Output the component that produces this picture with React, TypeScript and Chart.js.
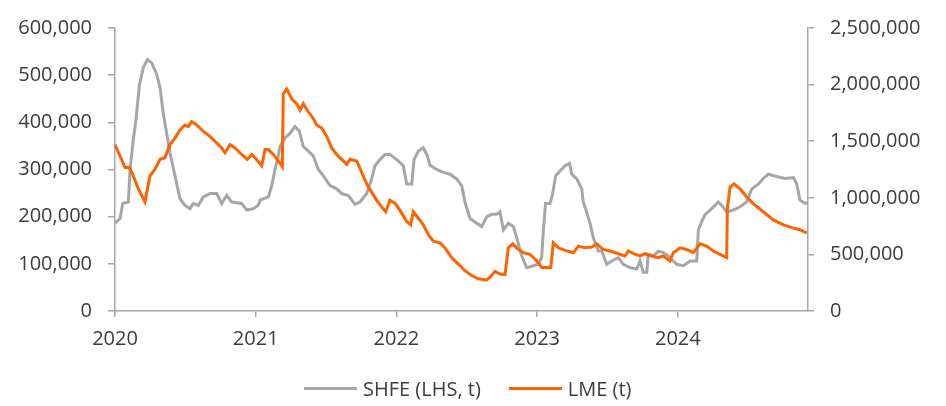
import React, { useEffect, useRef } from "react";
import { Chart, registerables } from "chart.js";

Chart.register(...registerables);

// Decimal-year positions and stock levels (tonnes)
const shfeDates = [
  2020.0, 2020.036, 2020.055, 2020.095, 2020.107, 2020.13, 2020.149, 2020.173, 2020.201, 2020.23,
  2020.261, 2020.296, 2020.32, 2020.343, 2020.367, 2020.391, 2020.426, 2020.462, 2020.497, 2020.533,
  2020.556, 2020.592, 2020.628, 2020.675, 2020.723, 2020.758, 2020.794, 2020.829, 2020.9, 2020.936,
  2020.983, 2021.018, 2021.031, 2021.09, 2021.114, 2021.137, 2021.161, 2021.173, 2021.208, 2021.244,
  2021.279, 2021.31, 2021.338, 2021.374, 2021.409, 2021.445, 2021.48, 2021.528, 2021.576, 2021.611,
  2021.658, 2021.706, 2021.741, 2021.789, 2021.824, 2021.848, 2021.883, 2021.919, 2021.954, 2022.002,
  2022.049, 2022.073, 2022.109, 2022.125, 2022.156, 2022.191, 2022.22, 2022.239, 2022.286, 2022.333,
  2022.381, 2022.428, 2022.464, 2022.487, 2022.523, 2022.571, 2022.606, 2022.642, 2022.677, 2022.713,
  2022.736, 2022.76, 2022.795, 2022.831, 2022.855, 2022.89, 2022.926, 2022.973, 2023.008, 2023.032,
  2023.044, 2023.06, 2023.091, 2023.108, 2023.132, 2023.163, 2023.199, 2023.23, 2023.246, 2023.282,
  2023.317, 2023.328, 2023.352, 2023.376, 2023.399, 2023.435, 2023.459, 2023.494, 2023.53, 2023.577,
  2023.612, 2023.66, 2023.708, 2023.731, 2023.755, 2023.779, 2023.79, 2023.826, 2023.861, 2023.897,
  2023.932, 2023.968, 2023.992, 2024.039, 2024.087, 2024.134, 2024.146, 2024.17, 2024.193, 2024.229,
  2024.264, 2024.288, 2024.312, 2024.347, 2024.394, 2024.442, 2024.489, 2024.525, 2024.572, 2024.607,
  2024.643, 2024.703, 2024.762, 2024.821, 2024.845, 2024.868, 2024.904, 2024.925,
];
const shfeValues = [
  186000, 196000, 228000, 231000, 300000, 363000, 405000, 478000, 516000, 533000,
  526000, 502000, 474000, 419000, 377000, 335000, 287000, 238000, 224000, 217000,
  228000, 224000, 242000, 249000, 249000, 228000, 245000, 231000, 228000, 214000,
  217000, 224000, 235000, 242000, 266000, 300000, 329000, 349000, 367000, 377000,
  391000, 381000, 349000, 339000, 329000, 300000, 287000, 266000, 259000, 249000,
  245000, 226000, 231000, 249000, 280000, 308000, 321000, 332000, 332000, 321000,
  308000, 269000, 269000, 321000, 339000, 346000, 329000, 309000, 300000, 294000,
  290000, 280000, 266000, 231000, 196000, 186000, 179000, 200000, 205000, 205000,
  210000, 172000, 186000, 179000, 155000, 117000, 92000, 96000, 99000, 113000,
  169000, 228000, 228000, 245000, 287000, 297000, 308000, 313000, 290000, 280000,
  259000, 231000, 210000, 186000, 155000, 127000, 127000, 99000, 106000, 113000,
  99000, 92000, 89000, 106000, 82000, 82000, 120000, 117000, 127000, 124000,
  117000, 106000, 99000, 96000, 106000, 106000, 172000, 190000, 204000, 214000,
  224000, 231000, 224000, 210000, 214000, 221000, 231000, 259000, 269000, 281000,
  290000, 285000, 281000, 283000, 269000, 235000, 228000, 230000,
];

const lmeDates = [
  2020.0, 2020.036, 2020.071, 2020.102, 2020.13, 2020.166, 2020.213, 2020.249, 2020.284, 2020.32,
  2020.355, 2020.391, 2020.426, 2020.462, 2020.497, 2020.521, 2020.545, 2020.581, 2020.628, 2020.675,
  2020.723, 2020.758, 2020.782, 2020.817, 2020.853, 2020.9, 2020.94, 2020.972, 2020.995, 2021.043,
  2021.066, 2021.09, 2021.125, 2021.161, 2021.189, 2021.196, 2021.22, 2021.256, 2021.291, 2021.315,
  2021.338, 2021.374, 2021.409, 2021.433, 2021.469, 2021.505, 2021.54, 2021.576, 2021.611, 2021.647,
  2021.67, 2021.718, 2021.753, 2021.789, 2021.824, 2021.86, 2021.895, 2021.924, 2021.954, 2021.99,
  2022.025, 2022.073, 2022.101, 2022.12, 2022.156, 2022.191, 2022.227, 2022.262, 2022.31, 2022.345,
  2022.393, 2022.44, 2022.487, 2022.535, 2022.582, 2022.642, 2022.665, 2022.701, 2022.736, 2022.772,
  2022.795, 2022.826, 2022.866, 2022.902, 2022.949, 2022.997, 2023.033, 2023.097, 2023.115, 2023.151,
  2023.198, 2023.257, 2023.293, 2023.34, 2023.388, 2023.423, 2023.47, 2023.518, 2023.577, 2023.625,
  2023.648, 2023.684, 2023.731, 2023.767, 2023.814, 2023.861, 2023.897, 2023.944, 2023.968, 2024.016,
  2024.063, 2024.11, 2024.158, 2024.205, 2024.252, 2024.3, 2024.347, 2024.352, 2024.371, 2024.399,
  2024.442, 2024.489, 2024.536, 2024.607, 2024.678, 2024.75, 2024.821, 2024.868, 2024.916,
];
const lmeValues = [
  1470000, 1369000, 1267000, 1267000, 1195000, 1079000, 964000, 1195000, 1253000, 1340000,
  1354000, 1470000, 1528000, 1600000, 1643000, 1629000, 1673000, 1643000, 1586000, 1543000,
  1484000, 1441000, 1398000, 1470000, 1441000, 1383000, 1340000, 1383000, 1354000, 1282000,
  1426000, 1426000, 1383000, 1325000, 1276000, 1918000, 1962000, 1875000, 1832000, 1774000,
  1832000, 1760000, 1701000, 1643000, 1615000, 1543000, 1441000, 1383000, 1340000, 1296000,
  1340000, 1325000, 1224000, 1122000, 1050000, 978000, 920000, 877000, 978000, 950000,
  891000, 790000, 761000, 877000, 819000, 761000, 674000, 616000, 602000, 558000,
  471000, 414000, 356000, 313000, 284000, 275000, 298000, 350000, 327000, 321000,
  558000, 593000, 544000, 515000, 501000, 443000, 385000, 385000, 602000, 558000,
  535000, 515000, 573000, 558000, 564000, 593000, 544000, 530000, 506000, 486000,
  530000, 506000, 486000, 506000, 486000, 471000, 486000, 443000, 515000, 558000,
  544000, 515000, 593000, 573000, 530000, 501000, 471000, 905000, 1094000, 1122000,
  1079000, 1007000, 949000, 877000, 805000, 761000, 732000, 718000, 688000,
];

const yearTicks = [2020, 2021, 2022, 2023, 2024];
const seriesNames = ["SHFE (LHS, t)", "LME (t)"];
const GREY = "#a6a6a6";
const ORANGE = "#ff6200";
const TEXT = "#3c3c3c";
const FONT = "'Open Sans', sans-serif";

export default function App() {
  const ref = useRef<HTMLCanvasElement>(null);

  useEffect(() => {
    document.body.style.margin = "0";
    const ctx = ref.current!.getContext("2d")!;
    const chart = new Chart(ctx, {
      type: "line",
      data: {
        datasets: [
          {
            label: seriesNames[0],
            data: shfeDates.map((d, i) => ({ x: d, y: shfeValues[i] })),
            borderColor: GREY,
            backgroundColor: GREY,
            borderWidth: 3,
            pointRadius: 0,
            tension: 0,
            yAxisID: "y",
            order: 2,
          },
          {
            label: seriesNames[1],
            data: lmeDates.map((d, i) => ({ x: d, y: lmeValues[i] })),
            borderColor: ORANGE,
            backgroundColor: ORANGE,
            borderWidth: 3,
            pointRadius: 0,
            tension: 0,
            yAxisID: "y1",
            order: 1,
          },
        ],
      },
      options: {
        animation: false,
        responsive: false,
        maintainAspectRatio: false,
        layout: { padding: { top: 23, left: 0, right: 0, bottom: 0 } },
        plugins: { legend: { display: false }, tooltip: { enabled: false } },
        scales: {
          x: {
            type: "linear",
            min: 2020,
            max: 2024.925,
            afterFit: (s: any) => {
              s.height = 95;
            },
            afterBuildTicks: (s: any) => {
              s.ticks = yearTicks.map((v) => ({ value: v }));
            },
            ticks: {
              callback: (v: any) => String(v),
              font: { family: FONT, size: 20 },
              color: TEXT,
              padding: 10,
              maxRotation: 0,
            },
            grid: { drawOnChartArea: false, tickLength: 6, color: GREY, lineWidth: 1.5 },
            border: { color: GREY, width: 1.5 },
          },
          y: {
            position: "left",
            min: 0,
            max: 600000,
            afterFit: (s: any) => {
              s.width = 115;
            },
            ticks: {
              stepSize: 100000,
              callback: (v: any) => Number(v).toLocaleString("en-US"),
              font: { family: FONT, size: 20 },
              color: TEXT,
              padding: 16,
            },
            grid: { drawOnChartArea: false, tickLength: 7, color: GREY, lineWidth: 1.5 },
            border: { color: GREY, width: 1.5 },
          },
          y1: {
            position: "right",
            min: 0,
            max: 2500000,
            afterFit: (s: any) => {
              s.width = 138;
            },
            ticks: {
              stepSize: 500000,
              callback: (v: any) => Number(v).toLocaleString("en-US"),
              font: { family: FONT, size: 20 },
              color: TEXT,
              padding: 16,
            },
            grid: { drawOnChartArea: false, tickLength: 6, color: GREY, lineWidth: 1.5 },
            border: { color: GREY, width: 1.5 },
          },
        },
      },
    });
    return () => chart.destroy();
  }, []);

  const legendItem = (name: string, color: string) => (
    <div style={{ display: "flex", alignItems: "center", marginRight: 28 }}>
      <span style={{ display: "inline-block", width: 53, height: 3, background: color, marginRight: 6 }} />
      <span style={{ fontFamily: FONT, fontSize: 20, color: TEXT, whiteSpace: "nowrap" }}>{name}</span>
    </div>
  );

  return (
    <div style={{ position: "relative", width: 946, height: 406 }}>
      <canvas ref={ref} width={946} height={406} style={{ display: "block" }} />
      <div
        style={{
          position: "absolute",
          top: 373,
          left: 304,
          height: 30,
          display: "flex",
          alignItems: "center",
        }}
      >
        {legendItem(seriesNames[0], GREY)}
        {legendItem(seriesNames[1], ORANGE)}
      </div>
    </div>
  );
}
